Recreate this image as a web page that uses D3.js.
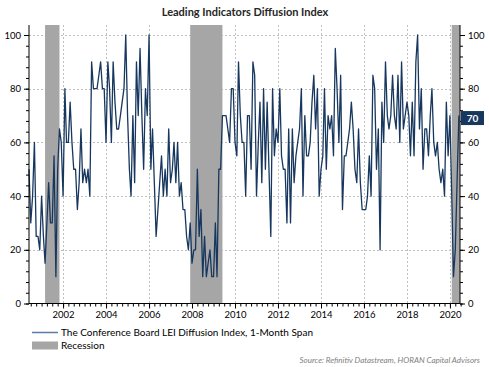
<!DOCTYPE html>
<html>
<head>
<meta charset="utf-8">
<script src="https://cdn.jsdelivr.net/npm/d3@7"></script>
<style>
  html, body { margin: 0; padding: 0; background: #fff; }
  svg { display: block; font-family: Lato, "Open Sans", sans-serif; }
</style>
</head>
<body>
<div id="chart"></div>
<script>
// ---- data ----
const title = "Leading Indicators Diffusion Index";
const seriesName = "The Conference Board LEI Diffusion Index, 1-Month Span";
const recessionName = "Recession";
const sourceText = "Source: Refinitiv Datastream, HORAN Capital Advisors";
const startYear = 2000, startMonth = 5; // June 2000 (0-based month)
const values = [
  50, 30, 40, 60, 25, 25, 20, 40, 25, 15,
  30, 45, 30, 30, 55, 10, 50, 65, 60, 40,
  80, 60, 60, 75, 60, 50, 50, 35, 45, 65,
  45, 50, 45, 50, 40, 90, 80, 80, 80, 85,
  90, 80, 80, 60, 90, 80, 60, 90, 75, 65,
  65, 70, 75, 80, 100, 70, 50, 40, 70, 45,
  90, 70, 95, 70, 50, 80, 70, 100, 50, 65,
  45, 25, 35, 45, 55, 40, 50, 40, 65, 45,
  50, 60, 45, 60, 40, 45, 35, 35, 25, 20,
  30, 15, 20, 20, 50, 25, 35, 10, 25, 10,
  15, 20, 10, 10, 30, 10, 50, 50, 70, 70,
  70, 65, 60, 80, 80, 60, 55, 90, 70, 60,
  60, 40, 70, 70, 50, 90, 85, 40, 60, 75,
  45, 80, 50, 75, 50, 25, 80, 55, 65, 60,
  80, 55, 50, 50, 30, 65, 30, 65, 45, 55,
  60, 65, 80, 40, 70, 55, 55, 60, 75, 85,
  65, 80, 40, 50, 55, 80, 50, 70, 65, 70,
  55, 95, 80, 60, 85, 35, 55, 55, 60, 65,
  75, 65, 50, 45, 65, 45, 35, 35, 35, 40,
  55, 40, 85, 80, 50, 65, 20, 75, 60, 90,
  70, 65, 70, 85, 70, 65, 85, 60, 90, 65,
  70, 75, 70, 55, 75, 55, 90, 100, 65, 80,
  50, 65, 65, 55, 70, 80, 60, 55, 60, 50,
  45, 50, 40, 75, 55, 70, 40, 10, 20, 45, 70
];
const recessionStarts = ["2001-03-01", "2007-12-01", "2020-02-01"];
const recessionEnds   = ["2001-11-01", "2009-06-01", "2020-06-20"];
const yTicks = [0, 20, 40, 60, 80, 100];
const xTickYears = [2002, 2004, 2006, 2008, 2010, 2012, 2014, 2016, 2018, 2020];
const lastLabel = "70";

// ---- build ----
const W = 489, H = 367;
const navy = "#17375e";
const parse = d3.timeParse("%Y-%m-%d");
const data = values.map((v, i) => ({ date: new Date(startYear, startMonth + i, 1), value: v }));

const svg = d3.select("#chart").append("svg").attr("width", W).attr("height", H);

const x = d3.scaleTime()
  .domain([new Date(2000, 5, 1), new Date(2020, 5, 20)])
  .range([29, 460]);
const y = d3.scaleLinear().domain([0, 100]).range([303.5, 35]);
const plotTop = 25, plotBottom = y(0), plotLeft = x.range()[0], plotRight = x.range()[1];

// title
svg.append("text").attr("x", 245).attr("y", 16).attr("text-anchor", "middle")
  .attr("font-size", 11).attr("font-weight", "bold").attr("fill", "#262626").text(title);

// gridlines
const grid = svg.append("g").attr("stroke", "#bfbfbf").attr("stroke-width", 1).attr("stroke-dasharray", "2,2");
grid.selectAll("line.h").data(yTicks.filter(d => d > 0)).join("line")
  .attr("x1", plotLeft).attr("x2", plotRight)
  .attr("y1", d => Math.round(y(d)) + 0.5).attr("y2", d => Math.round(y(d)) + 0.5);
grid.selectAll("line.v").data(xTickYears).join("line")
  .attr("x1", d => Math.round(x(new Date(d, 0, 1))) + 0.5).attr("x2", d => Math.round(x(new Date(d, 0, 1))) + 0.5)
  .attr("y1", plotTop).attr("y2", plotBottom);

// recession bands
svg.append("g").selectAll("rect").data(recessionStarts.map((s, i) => [parse(s), parse(recessionEnds[i])])).join("rect")
  .attr("x", d => x(d[0])).attr("width", d => x(d[1]) - x(d[0]))
  .attr("y", plotTop).attr("height", plotBottom - plotTop)
  .attr("fill", "#a6a6a6");

// line
const line = d3.line().x(d => x(d.date)).y(d => y(d.value));
svg.append("path").datum(data).attr("d", line)
  .attr("fill", "none").attr("stroke", navy).attr("stroke-width", 1.3).attr("stroke-linejoin", "round");

// axes
function styleAxis(g) {
  g.selectAll(".domain").attr("stroke", "#000");
  g.selectAll(".tick line").attr("stroke", "#000");
  g.selectAll(".tick text").attr("font-size", 9.5).attr("fill", "#000").attr("font-family", "Lato, sans-serif");
}
const minorY = d3.range(0, 101, 4);
svg.append("g").attr("transform", `translate(${plotLeft},0)`)
  .call(d3.axisLeft(y).tickValues(minorY).tickSize(3).tickFormat("").tickSizeOuter(0))
  .call(styleAxis).call(g => g.select(".domain").attr("d", `M0,${plotTop}V${plotBottom}`));
svg.append("g").attr("transform", `translate(${plotLeft},0)`)
  .call(d3.axisLeft(y).tickValues(yTicks).tickSize(5).tickPadding(3).tickSizeOuter(0))
  .call(styleAxis).call(g => g.select(".domain").remove());
svg.append("g").attr("transform", `translate(${plotRight},0)`)
  .call(d3.axisRight(y).tickValues(minorY).tickSize(3).tickFormat("").tickSizeOuter(0))
  .call(styleAxis).call(g => g.select(".domain").attr("d", `M0,${plotTop}V${plotBottom}`));
svg.append("g").attr("transform", `translate(${plotRight},0)`)
  .call(d3.axisRight(y).tickValues(yTicks).tickSize(5).tickPadding(3).tickSizeOuter(0))
  .call(styleAxis).call(g => g.select(".domain").remove());

const quarters = d3.timeMonth.every(3).range(new Date(2000, 6, 1), new Date(2020, 6, 2));
svg.append("g").attr("transform", `translate(0,${plotBottom})`)
  .call(d3.axisBottom(x).tickValues(quarters).tickSize(3).tickFormat("").tickSizeOuter(0))
  .call(styleAxis).call(g => g.select(".domain").attr("d", `M${plotLeft},0H${plotRight}`));
svg.append("g").attr("transform", `translate(0,${plotBottom})`)
  .call(d3.axisBottom(x).tickValues(xTickYears.map(d => new Date(d, 0, 1))).tickSize(5).tickPadding(3)
    .tickFormat(d3.timeFormat("%Y")).tickSizeOuter(0))
  .call(styleAxis).call(g => g.select(".domain").remove());

// last value label
const last = data[data.length - 1];
const ly = y(last.value) + 2.5;
svg.append("rect").attr("x", 461).attr("y", ly - 7).attr("width", 23).attr("height", 14).attr("fill", navy);
svg.append("text").attr("x", 472.5).attr("y", ly + 3.5).attr("text-anchor", "middle")
  .attr("font-size", 10).attr("font-weight", "bold").attr("fill", "#fff").text(lastLabel);

// legend
const lg = svg.append("g");
lg.append("line").attr("x1", 32).attr("x2", 58).attr("y1", 332.5).attr("y2", 332.5)
  .attr("stroke", "#5a7aa8").attr("stroke-width", 1.5);
lg.append("text").attr("x", 61).attr("y", 336).attr("font-size", 10).attr("fill", "#000").text(seriesName);
lg.append("rect").attr("x", 32).attr("y", 341.5).attr("width", 26).attr("height", 8).attr("fill", "#a6a6a6");
lg.append("text").attr("x", 61).attr("y", 349).attr("font-size", 10).attr("fill", "#000").text(recessionName);

// source
svg.append("text").attr("x", 480).attr("y", 363).attr("text-anchor", "end")
  .attr("font-size", 8).attr("font-style", "italic").attr("fill", "#808080").text(sourceText);
</script>
</body>
</html>
